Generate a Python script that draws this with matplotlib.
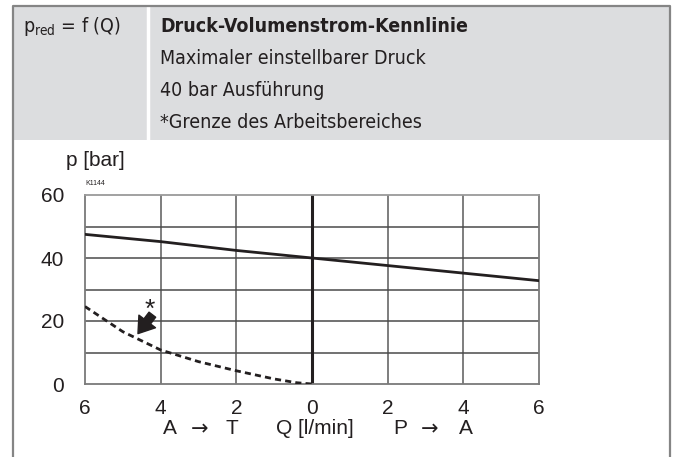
#Druck-Volumenstrom-Kennlinie
import numpy as np
import matplotlib.pyplot as plt
from matplotlib.patches import Rectangle
from matplotlib.lines import Line2D

plt.rcParams['font.family'] = ['Liberation Sans', 'DejaVu Sans']

#Data
q_max = [-6, -4, -2, 0, 2, 4, 6]
p_max = [47.5, 45.2, 42.4, 40.0, 37.6, 35.2, 32.8]
q_limit = [-6, -5, -4, -3, -2, -1, -0.4, 0]
p_limit = [24.6, 16.6, 10.8, 7.1, 4.2, 1.6, 0.4, 0]
x_ticks = [-6, -4, -2, 0, 2, 4, 6]
x_tick_labels = ['6', '4', '2', '0', '2', '4', '6']
y_ticks = [0, 20, 40, 60]

header_lines = ['Maximaler einstellbarer Druck', '40 bar Ausführung', '*Grenze des Arbeitsbereiches']
x_label_parts = ['A', '\u2192', 'T', 'Q [l/min]', 'P', '\u2192', 'A']

W, H = 676, 457
fig = plt.figure(figsize=(W / 100, H / 100), dpi=100)

def fx(px):
    return px / W

def fy(py):
    return 1 - py / H

#header band and frame
fig.patches.append(Rectangle((fx(13), fy(140)), fx(656), 134 / H, transform=fig.transFigure,
                             facecolor='#dcdddf', edgecolor='none', zorder=0))
fig.lines.append(Line2D([fx(148), fx(148)], [fy(140), fy(6)], transform=fig.transFigure, color='white', lw=2.5))
fig.lines.append(Line2D([fx(13), fx(13), fx(669.5), fx(669.5)], [0, fy(6), fy(6), 0],
                        transform=fig.transFigure, color='#858585', lw=1.6))

hdr = dict(fontsize=14, family='DejaVu Sans', fontstretch='condensed', va='center', color='#231f20')
fig.text(fx(23), fy(27), r'p$_{\mathregular{red}}$ = f (Q)', **hdr)
fig.text(fx(160), fy(27), 'Druck-Volumenstrom-Kennlinie', weight='bold', **hdr)
for i, line in enumerate(header_lines):
    fig.text(fx(160), fy(59 + 31.5 * i), line, **hdr)

#chart
ax = fig.add_axes([fx(85), fy(384), fx(454), 189 / H])
ax.set_xlim(-6, 6)
ax.set_ylim(0, 60)
for x in [-4, -2, 2, 4]:
    ax.axvline(x, color='#5a5a5a', lw=1.1, zorder=1)
for y in [10, 20, 30, 40, 50]:
    ax.axhline(y, color='#4a4a4a', lw=1.1, zorder=1)
ax.axvline(0, color='#231f20', lw=2.2, zorder=2)

ax.plot(q_max, p_max, color='#231f20', lw=2.0, zorder=3)
ax.plot(q_limit, p_limit, color='#231f20', lw=2.0, dashes=(2.2, 1.5), zorder=3)

ax.annotate('', xy=(-4.6, 16.0), xytext=(-4.22, 22.0),
            arrowprops=dict(arrowstyle='simple,head_length=0.55,head_width=0.75,tail_width=0.3',
                            mutation_scale=20, color='#231f20', shrinkA=0, shrinkB=0), zorder=4)
ax.text(-4.3, 23.5, '*', fontsize=19, ha='center', va='center', color='#231f20')
ax.text(0.0, 1.04, 'K1144', transform=ax.transAxes, fontsize=5, color='#231f20', va='bottom')

for s in ax.spines.values():
    s.set_color('#7a7a7a')
    s.set_linewidth(1.3)
ax.spines['top'].set_color('#9a9a9a')

ax.set_xticks(x_ticks)
ax.set_xticklabels(x_tick_labels)
ax.set_yticks(y_ticks)
ax.tick_params(length=0, labelsize=15, colors='#231f20', pad=11)
ax.tick_params(axis='y', pad=15)

fig.text(fx(95), fy(160), 'p [bar]', fontsize=15, ha='center', va='center', color='#231f20')
part_x = [169.5, 200, 231.5, 315, 400, 430, 465.5]
for px, part in zip(part_x, x_label_parts):
    fam = ['DejaVu Sans'] if part == '\u2192' else ['Liberation Sans']
    fig.text(fx(px), fy(429), part, fontsize=15, family=fam, ha='center', va='center', color='#231f20')

plt.savefig('out.png', dpi=100)
